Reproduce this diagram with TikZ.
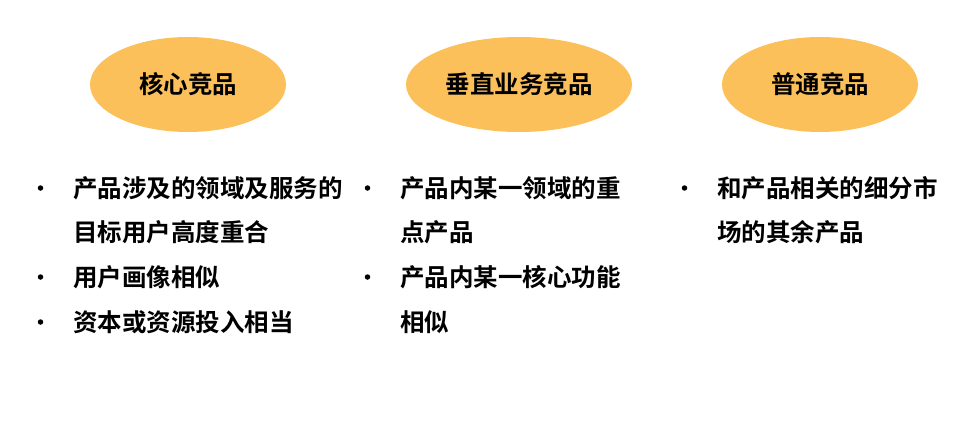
\documentclass[tikz,border=0pt]{standalone}
\usepackage{fontspec}
\newfontfamily\cjk{Noto Sans CJK SC}[BoldFont={Noto Sans CJK SC Bold}]
\usetikzlibrary{shapes.geometric}
\definecolor{pill}{RGB}{252,192,90}
\begin{document}
\begin{tikzpicture}[x=1pt,y=-1pt,
  cat/.style={ellipse,fill=pill,draw=none,minimum width=#1,minimum height=95pt,inner sep=0pt,
    font=\cjk\bfseries\fontsize{24.5}{24.5}\selectfont},
  item/.style={anchor=west,inner sep=0pt,text height=0.83em,text depth=0.07em,yshift=-5.5pt,
    font=\cjk\bfseries\fontsize{24.5}{24.5}\selectfont},
  dot/.style={circle,fill=black,inner sep=0pt,minimum size=5.5pt}]
\useasboundingbox (0,0) rectangle (974,439);
\node[cat=196pt] (c1) at (188,84.5) {核心竞品};
\node[cat=226pt] (c2) at (519,84.5) {垂直业务竞品};
\node[cat=196pt] (c3) at (820,84.5) {普通竞品};
% column 1
\node[dot] (b11) at (40.5,188) {};
\node[item] (t11) at (73,188) {产品涉及的领域及服务的};
\node[item] (t12) at (73,232.5) {目标用户高度重合};
\node[dot] (b12) at (40.5,277) {};
\node[item] (t13) at (73,277) {用户画像相似};
\node[dot] (b13) at (40.5,322) {};
\node[item] (t14) at (73,322) {资本或资源投入相当};
% column 2
\node[dot] (b21) at (367.5,188) {};
\node[item] (t21) at (400,188) {产品内某一领域的重};
\node[item] (t22) at (400,232.5) {点产品};
\node[dot] (b22) at (367.5,277) {};
\node[item] (t23) at (400,277) {产品内某一核心功能};
\node[item] (t24) at (400,322) {相似};
% column 3
\node[dot] (b31) at (684.5,188) {};
\node[item] (t31) at (717,188) {和产品相关的细分市};
\node[item] (t32) at (717,232.5) {场的其余产品};
\end{tikzpicture}
\end{document}
